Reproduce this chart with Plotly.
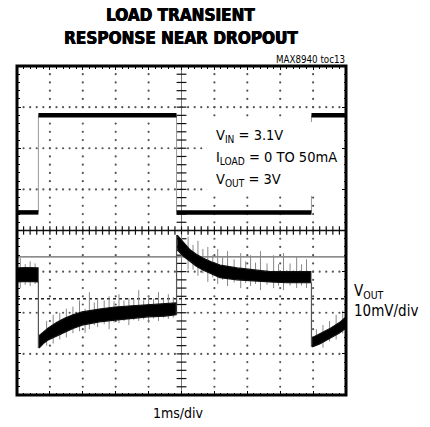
import plotly.graph_objects as go

# ---------------- data (divisions; x: 1 ms/div, y: screen divisions) ----------------
# Load-current (top) trace: edge times and levels
iload_edges = [0.65, 4.85, 8.95]
iload_levels = [4.44, 6.80, 4.44, 6.80]   # level before/after each edge

# VOUT noisy band, per segment: time, upper envelope, lower envelope
vout_t_A = [0.0, 0.3, 0.64]
vout_hi_A = [3.09, 3.10, 3.09]
vout_lo_A = [2.75, 2.76, 2.75]

vout_t_B = [0.67, 0.80, 0.95, 1.2, 1.46, 1.7, 1.98, 2.5, 2.98, 3.5, 3.98, 4.5, 4.83]
vout_hi_B = [1.44, 1.54, 1.63, 1.76, 1.87, 1.95, 2.02, 2.09, 2.14, 2.17, 2.19, 2.21, 2.24]
vout_lo_B = [1.14, 1.25, 1.34, 1.44, 1.53, 1.62, 1.70, 1.78, 1.82, 1.87, 1.90, 1.92, 1.95]

vout_t_C = [4.87, 5.05, 5.26, 5.45, 5.65, 5.9, 6.17, 6.69, 7.2, 7.69, 8.2, 8.93]
vout_hi_C = [3.89, 3.72, 3.53, 3.42, 3.33, 3.24, 3.16, 3.09, 3.04, 3.00, 3.00, 3.00]
vout_lo_C = [3.53, 3.38, 3.24, 3.13, 3.04, 2.94, 2.85, 2.80, 2.77, 2.75, 2.73, 2.73]

vout_t_D = [8.97, 9.2, 9.54, 9.8, 10.0]
vout_hi_D = [1.39, 1.48, 1.63, 1.76, 1.90]
vout_lo_D = [1.17, 1.24, 1.39, 1.51, 1.63]

# noise spikes on VOUT: time, bottom, top
spike_t = [0.1, 0.25, 0.4, 0.55, 0.9, 1.1, 1.3, 1.5, 1.7, 1.9, 2.07, 2.2, 2.35, 2.45, 2.65, 2.8,
           2.95, 3.1, 3.25, 3.4, 3.55, 3.7, 3.85, 4.0, 4.15, 4.3, 4.45, 4.6, 4.75,
           5.0, 5.2, 5.35, 5.5, 5.65, 5.8, 5.95, 6.1, 6.25, 6.4, 6.6, 6.8, 6.95, 7.1, 7.25,
           7.4, 7.6, 7.8, 7.95, 8.1, 8.3, 8.5, 8.65, 8.8, 9.1, 9.3, 9.5, 9.7, 9.9]
spike_bot = [2.60, 2.68, 2.65, 2.70, 1.20, 1.25, 1.35, 1.40, 1.50, 1.55, 1.51, 1.60, 1.70, 1.65, 1.72, 1.60,
             1.76, 1.75, 1.80, 1.70, 1.82, 1.80, 1.84, 1.75, 1.86, 1.80, 1.88, 1.85, 1.88,
             3.30, 3.05, 3.05, 2.90, 2.96, 2.75, 2.86, 2.70, 2.80, 2.65, 2.74, 2.60, 2.72, 2.65, 2.70,
             2.55, 2.68, 2.60, 2.66, 2.55, 2.66, 2.60, 2.66, 2.60, 1.20, 1.15, 1.30, 1.35, 1.50]
spike_top = [3.33, 3.18, 3.25, 3.20, 1.80, 1.95, 2.00, 2.10, 2.15, 2.30, 2.10, 2.50, 2.25, 2.35, 2.30, 2.40,
             2.28, 2.45, 2.30, 2.35, 2.33, 2.55, 2.30, 2.40, 2.34, 2.50, 2.32, 2.45, 2.38,
             3.90, 3.85, 3.65, 3.75, 3.55, 3.60, 3.40, 3.55, 3.35, 3.50, 3.30, 3.45, 3.25, 3.40, 3.22,
             3.50, 3.20, 3.40, 3.18, 3.45, 3.20, 3.35, 3.18, 3.30, 1.60, 1.70, 1.80, 1.95, 2.05]

ref_solid_y = 3.36   # gray reference line
ref_dash_y = 2.34    # dashed marker line

N_X, N_Y = 10, 8

# ---------------- geometry ----------------
W, H = 430, 427
L, R, T, B = 17, 346, 66, 395
FONT = "Liberation Sans Narrow, DejaVu Sans Condensed, Liberation Sans, sans-serif"

def px(x):
    return (x - L) / (R - L)

def py(y):
    return (B - y) / (B - T)

fig = go.Figure()

# dotted grid (dots every 0.2 div)
gx, gy = [], []
for k in range(1, N_X):
    if k == N_X // 2:
        continue
    for j in range(0, N_Y * 5 + 1):
        gx.append(k); gy.append(j * 0.2)
for k in range(1, N_Y):
    if k == N_Y // 2:
        continue
    for j in range(0, N_X * 5 + 1):
        gx.append(j * 0.2); gy.append(k)
fig.add_trace(go.Scatter(x=gx, y=gy, mode="markers",
                         marker=dict(size=2.2, color="#555", line=dict(width=0)),
                         hoverinfo="skip"))

# center cross with ticks
fig.add_trace(go.Scatter(x=[0, N_X], y=[N_Y / 2, N_Y / 2], mode="lines",
                         line=dict(color="#111", width=1.4), hoverinfo="skip"))
fig.add_trace(go.Scatter(x=[N_X / 2, N_X / 2], y=[0, N_Y], mode="lines",
                         line=dict(color="#777", width=1), hoverinfo="skip"))
cx = [j * 0.2 for j in range(N_X * 5 + 1)]
fig.add_trace(go.Scatter(x=cx, y=[N_Y / 2] * len(cx), mode="markers",
                         marker=dict(symbol="line-ns", size=6, line=dict(width=1.2, color="#111")),
                         hoverinfo="skip"))
cy = [j * 0.2 for j in range(N_Y * 5 + 1)]
fig.add_trace(go.Scatter(x=[N_X / 2] * len(cy), y=cy, mode="markers",
                         marker=dict(symbol="line-ew", size=7, line=dict(width=1.2, color="#111")),
                         hoverinfo="skip"))

# reference lines
fig.add_trace(go.Scatter(x=[0, N_X], y=[ref_solid_y, ref_solid_y], mode="lines",
                         line=dict(color="#666", width=1.3), hoverinfo="skip"))
fig.add_trace(go.Scatter(x=[0, N_X], y=[ref_dash_y, ref_dash_y], mode="lines",
                         line=dict(color="#222", width=1.3, dash="3px,3px"), hoverinfo="skip"))

# load current trace
times = [0.0] + iload_edges + [float(N_X)]
tx, ty = [], []
for i in range(len(iload_levels)):
    tx += [times[i], times[i + 1], None]
    ty += [iload_levels[i], iload_levels[i], None]
ex, ey = [], []
for i, e in enumerate(iload_edges):
    ex += [e, e, None]
    ey += [iload_levels[i], iload_levels[i + 1], None]
fig.add_trace(go.Scatter(x=ex, y=ey, mode="lines", line=dict(color="#999", width=1),
                         hoverinfo="skip"))
fig.add_trace(go.Scatter(x=tx, y=ty, mode="lines", line=dict(color="#000", width=4.5),
                         hoverinfo="skip"))

# VOUT transitions
segs = [(vout_t_A, vout_hi_A, vout_lo_A), (vout_t_B, vout_hi_B, vout_lo_B),
        (vout_t_C, vout_hi_C, vout_lo_C), (vout_t_D, vout_hi_D, vout_lo_D)]
vx, vy = [], []
for i, e in enumerate(iload_edges):
    prev, nxt = segs[i], segs[i + 1]
    if nxt[1][0] > prev[1][-1]:
        vy += [prev[2][-1], nxt[1][0], None]
    else:
        vy += [prev[2][-1], nxt[2][0], None]
    vx += [e, e, None]
fig.add_trace(go.Scatter(x=vx, y=vy, mode="lines", line=dict(color="#555", width=1.2),
                         hoverinfo="skip"))

# spikes
sx, sy = [], []
for t, b0, t0 in zip(spike_t, spike_bot, spike_top):
    sx += [t, t, None]
    sy += [b0, t0, None]
fig.add_trace(go.Scatter(x=sx, y=sy, mode="lines", line=dict(color="#888", width=1),
                         hoverinfo="skip"))

# VOUT bands
for t, hi, lo in segs:
    fig.add_trace(go.Scatter(x=list(t) + list(t)[::-1], y=list(hi) + list(lo)[::-1],
                             mode="lines", fill="toself", fillcolor="#000",
                             line=dict(color="#111", width=1.2), hoverinfo="skip"))

# white box behind the condition text
fig.add_shape(type="rect", xref="paper", yref="paper", x0=px(207), x1=px(341),
              y0=py(196), y1=py(122), fillcolor="#fff", line=dict(width=0), layer="above")

# frame
fig.add_shape(type="rect", xref="paper", yref="paper", x0=0, y0=0, x1=1, y1=1,
              line=dict(color="#000", width=3))

axis_common = dict(showgrid=False, zeroline=False, showticklabels=False,
                   ticks="inside", ticklen=4, tickwidth=1, tickcolor="#000",
                   mirror="allticks", showline=False, dtick=1, tick0=0,
                   minor=dict(dtick=0.2, ticklen=2.5, ticks="inside", tickcolor="#000", tickwidth=1),
                   fixedrange=True)
fig.update_xaxes(range=[0, N_X], **axis_common)
fig.update_yaxes(range=[0, N_Y], **axis_common)

annotations = []
for txt, xx, yy in [("<b>LOAD TRANSIENT</b>", 180, 15), ("<b>RESPONSE NEAR DROPOUT</b>", 181, 38)]:
    annotations.append(dict(text=txt, xref="paper", yref="paper",
                            x=px(xx), y=py(yy), xanchor="center", yanchor="middle",
                            showarrow=False,
                            font=dict(family=FONT, size=17, color="#000",
                                      shadow="0.5px 0 0 #000, -0.3px 0 0 #000")))
annotations.append(dict(text="MAX8940 toc13", xref="paper", yref="paper", x=px(347), y=py(60),
                        xanchor="right", yanchor="middle", showarrow=False,
                        font=dict(family=FONT, size=9.7, color="#000")))
for txt, yy in [("V<sub>IN</sub> = 3.1V", 136), ("I<sub>LOAD</sub> = 0 TO 50mA", 158),
                ("V<sub>OUT</sub> = 3V", 180)]:
    annotations.append(dict(text=txt, xref="paper", yref="paper", x=px(214), y=py(yy),
                            xanchor="left", yanchor="middle", showarrow=False,
                            font=dict(family=FONT, size=14.5, color="#000")))
annotations.append(dict(text="V<sub>OUT</sub>", xref="paper", yref="paper", x=px(352), y=py(291),
                        xanchor="left", yanchor="middle", showarrow=False,
                        font=dict(family=FONT, size=15, color="#000")))
annotations.append(dict(text="10mV/div", xref="paper", yref="paper", x=px(352), y=py(311),
                        xanchor="left", yanchor="middle", showarrow=False,
                        font=dict(family=FONT, size=15, color="#000")))
annotations.append(dict(text="1ms/div", xref="paper", yref="paper", x=px(178), y=py(413),
                        xanchor="center", yanchor="middle", showarrow=False,
                        font=dict(family=FONT, size=14, color="#000")))

fig.update_layout(width=W, height=H, margin=dict(l=L, r=W - R, t=T, b=H - B, pad=0),
                  paper_bgcolor="#fff", plot_bgcolor="#fff", showlegend=False,
                  annotations=annotations)

fig.write_html("out.html", config={"displayModeBar": False},
               post_script="document.body.style.margin='0';document.body.style.padding='0';")
